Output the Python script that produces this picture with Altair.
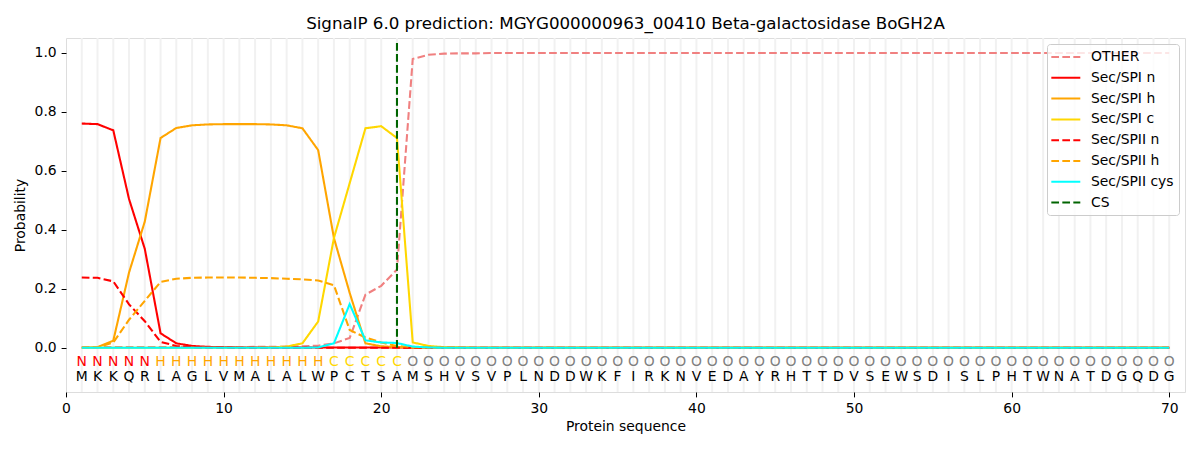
import altair as alt
import pandas as pd

positions = list(range(1, 71))
sequence = list("MKKQRLAGLVMALALWPCTSAMSHVSVPLNDDWKFIRKNVEDAYRHTTDVSEWSDISLPHTWNATDGQDG")
region_labels = list("NNNNN" + "HHHHHHHHHHH" + "CCCCC" + "O" * 49)

other = [0.002, 0.002, 0.002, 0.002, 0.002, 0.002, 0.002, 0.002, 0.002, 0.002,
         0.002, 0.003, 0.003, 0.004, 0.005, 0.007, 0.015, 0.033, 0.180, 0.210,
         0.265, 0.979, 0.993, 0.997, 0.998, 0.998, 0.999, 0.999, 0.999, 0.999,
         0.999, 0.999, 0.999, 0.999, 0.999, 0.999, 0.999, 0.999, 0.999, 0.999,
         0.999, 0.999, 0.999, 0.999, 0.999, 0.999, 0.999, 0.999, 0.999, 0.999,
         0.999, 0.999, 0.999, 0.999, 0.999, 0.999, 0.999, 0.999, 0.999, 0.999,
         0.999, 0.999, 0.999, 0.999, 0.999, 0.999, 0.999, 0.999, 0.999, 0.999]
spi_n = [0.760, 0.758, 0.737, 0.504, 0.335, 0.049, 0.015, 0.006, 0.003, 0.002,
         0.001, 0.001, 0.001, 0.001, 0.001, 0.001, 0.001, 0.001, 0.001, 0.001,
         0.001, 0.0, 0.0, 0.0, 0.0, 0.0, 0.0, 0.0, 0.0, 0.0,
         0.0, 0.0, 0.0, 0.0, 0.0, 0.0, 0.0, 0.0, 0.0, 0.0,
         0.0, 0.0, 0.0, 0.0, 0.0, 0.0, 0.0, 0.0, 0.0, 0.0,
         0.0, 0.0, 0.0, 0.0, 0.0, 0.0, 0.0, 0.0, 0.0, 0.0,
         0.0, 0.0, 0.0, 0.0, 0.0, 0.0, 0.0, 0.0, 0.0, 0.0]
spi_h = [0.0, 0.002, 0.024, 0.255, 0.428, 0.711, 0.745, 0.754, 0.757, 0.758,
         0.758, 0.758, 0.757, 0.754, 0.744, 0.670, 0.372, 0.186, 0.015, 0.005,
         0.002, 0.001, 0.0, 0.0, 0.0, 0.0, 0.0, 0.0, 0.0, 0.0,
         0.0, 0.0, 0.0, 0.0, 0.0, 0.0, 0.0, 0.0, 0.0, 0.0,
         0.0, 0.0, 0.0, 0.0, 0.0, 0.0, 0.0, 0.0, 0.0, 0.0,
         0.0, 0.0, 0.0, 0.0, 0.0, 0.0, 0.0, 0.0, 0.0, 0.0,
         0.0, 0.0, 0.0, 0.0, 0.0, 0.0, 0.0, 0.0, 0.0, 0.0]
spi_c = [0.0, 0.0, 0.0, 0.0, 0.0, 0.0, 0.0, 0.0, 0.0, 0.0,
         0.0, 0.0, 0.001, 0.004, 0.015, 0.089, 0.372, 0.558, 0.744, 0.751,
         0.711, 0.018, 0.006, 0.002, 0.001, 0.0, 0.0, 0.0, 0.0, 0.0,
         0.0, 0.0, 0.0, 0.0, 0.0, 0.0, 0.0, 0.0, 0.0, 0.0,
         0.0, 0.0, 0.0, 0.0, 0.0, 0.0, 0.0, 0.0, 0.0, 0.0,
         0.0, 0.0, 0.0, 0.0, 0.0, 0.0, 0.0, 0.0, 0.0, 0.0,
         0.0, 0.0, 0.0, 0.0, 0.0, 0.0, 0.0, 0.0, 0.0, 0.0]
spii_n = [0.238, 0.237, 0.225, 0.147, 0.090, 0.020, 0.006, 0.002, 0.001, 0.001,
          0.0, 0.0, 0.0, 0.0, 0.0, 0.0, 0.0, 0.0, 0.0, 0.0,
          0.0, 0.0, 0.0, 0.0, 0.0, 0.0, 0.0, 0.0, 0.0, 0.0,
          0.0, 0.0, 0.0, 0.0, 0.0, 0.0, 0.0, 0.0, 0.0, 0.0,
          0.0, 0.0, 0.0, 0.0, 0.0, 0.0, 0.0, 0.0, 0.0, 0.0,
          0.0, 0.0, 0.0, 0.0, 0.0, 0.0, 0.0, 0.0, 0.0, 0.0,
          0.0, 0.0, 0.0, 0.0, 0.0, 0.0, 0.0, 0.0, 0.0, 0.0]
spii_h = [0.0, 0.001, 0.018, 0.095, 0.159, 0.223, 0.234, 0.237, 0.238, 0.238,
          0.238, 0.237, 0.236, 0.234, 0.232, 0.228, 0.212, 0.060, 0.035, 0.018,
          0.006, 0.002, 0.001, 0.0, 0.0, 0.0, 0.0, 0.0, 0.0, 0.0,
          0.0, 0.0, 0.0, 0.0, 0.0, 0.0, 0.0, 0.0, 0.0, 0.0,
          0.0, 0.0, 0.0, 0.0, 0.0, 0.0, 0.0, 0.0, 0.0, 0.0,
          0.0, 0.0, 0.0, 0.0, 0.0, 0.0, 0.0, 0.0, 0.0, 0.0,
          0.0, 0.0, 0.0, 0.0, 0.0, 0.0, 0.0, 0.0, 0.0, 0.0]
spii_cys = [0.0, 0.0, 0.0, 0.0, 0.0, 0.0, 0.0, 0.0, 0.0, 0.0,
            0.0, 0.0, 0.0, 0.0, 0.0, 0.001, 0.015, 0.148, 0.025, 0.018,
            0.016, 0.004, 0.001, 0.0, 0.0, 0.0, 0.0, 0.0, 0.0, 0.0,
            0.0, 0.0, 0.0, 0.0, 0.0, 0.0, 0.0, 0.0, 0.0, 0.0,
            0.0, 0.0, 0.0, 0.0, 0.0, 0.0, 0.0, 0.0, 0.0, 0.0,
            0.0, 0.0, 0.0, 0.0, 0.0, 0.0, 0.0, 0.0, 0.0, 0.0,
            0.0, 0.0, 0.0, 0.0, 0.0, 0.0, 0.0, 0.0, 0.0, 0.0]
cs_position = 21
cs_top = 1.035

series_names = ["OTHER", "Sec/SPI n", "Sec/SPI h", "Sec/SPI c",
                "Sec/SPII n", "Sec/SPII h", "Sec/SPII cys", "CS"]
series_colors = ["#F08080", "#FF0000", "#FFA500", "#FFD700",
                 "#FF0000", "#FFA500", "#00FFFF", "#006400"]
series_dashes = [[7.7, 3.3], [1, 0], [1, 0], [1, 0],
                 [7.7, 3.3], [7.7, 3.3], [1, 0], [7.7, 3.3]]

region_domain = ["N", "H", "C", "O"]
region_colors = ["#FF0000", "#FFA500", "#FFD700", "#808080"]

values = [other, spi_n, spi_h, spi_c, spii_n, spii_h, spii_cys]
rows = []
for name, vals in zip(series_names[:-1], values):
    for p, v in zip(positions, vals):
        rows.append({"pos": p, "prob": v, "series": name})
lines_df = pd.DataFrame(rows)
cs_df = pd.DataFrame({"pos": [cs_position], "y0": [0.0], "y1": [cs_top], "series": ["CS"]})
seq_df = pd.DataFrame({"pos": positions, "aa": sequence, "region": region_labels})

FONT = "DejaVu Sans"
xscale = alt.Scale(domain=[0, 71], nice=False, zero=False)
yscale = alt.Scale(domain=[-0.15, 1.05], nice=False, zero=False)

color_scale = alt.Scale(domain=series_names, range=series_colors)
dash_scale = alt.Scale(domain=series_names, range=series_dashes)

legend = alt.Legend(
    title=None, orient="none", legendX=981, legendY=6,
    symbolType="M-1.24,0H2.9", symbolSize=196, symbolStrokeWidth=2,
    labelFont=FONT, labelFontSize=13.9, labelColor="black", labelOffset=23,
    rowPadding=5.8, padding=5, fillColor="rgba(255,255,255,0.8)",
    strokeColor="#cccccc", cornerRadius=3,
)

x_axis = alt.Axis(values=list(range(0, 71, 10)), title="Protein sequence", grid=False,
                  domain=False, tickSize=4.9, tickColor="black", labelPadding=4.9,
                  labelFont=FONT, labelFontSize=13.9, labelColor="black",
                  titleFont=FONT, titleFontSize=13.9, titleFontWeight="normal",
                  titleColor="black", titlePadding=4, labelFlush=False)
y_axis = alt.Axis(values=[0.0, 0.2, 0.4, 0.6, 0.8, 1.0], format=".1f", title="Probability",
                  grid=False, domain=False, tickSize=4.9, tickColor="black",
                  labelPadding=4.9, labelFont=FONT, labelFontSize=13.9, labelColor="black",
                  titleFont=FONT, titleFontSize=13.9, titleFontWeight="normal",
                  titleColor="black", titlePadding=7, labelFlush=False)

grid = alt.Chart(seq_df).mark_rule(color="#f1f1f1", strokeWidth=2).encode(
    x=alt.X("pos:Q", scale=xscale, axis=x_axis)
)

lines = alt.Chart(lines_df).mark_line(strokeWidth=2.08).encode(
    x=alt.X("pos:Q", scale=xscale, axis=x_axis),
    y=alt.Y("prob:Q", scale=yscale, axis=y_axis),
    color=alt.Color("series:N", scale=color_scale, legend=legend, sort=series_names),
    strokeDash=alt.StrokeDash("series:N", scale=dash_scale, legend=legend, sort=series_names),
)

cs_rule = alt.Chart(cs_df).mark_rule(strokeWidth=2.08).encode(
    x=alt.X("pos:Q", scale=xscale),
    y=alt.Y("y0:Q", scale=yscale),
    y2="y1:Q",
    color=alt.Color("series:N", scale=color_scale, legend=legend, sort=series_names),
    strokeDash=alt.StrokeDash("series:N", scale=dash_scale, legend=legend, sort=series_names),
)

region_text = alt.Chart(seq_df).mark_text(font=FONT, fontSize=13.9, baseline="middle",
                                          align="center").encode(
    x=alt.X("pos:Q", scale=xscale),
    y=alt.datum(-0.048, scale=yscale),
    text="region:N",
    fill=alt.Fill("region:N", scale=alt.Scale(domain=region_domain, range=region_colors),
                  legend=None),
)

seq_text = alt.Chart(seq_df).mark_text(font=FONT, fontSize=13.9, baseline="middle",
                                       align="center", color="black").encode(
    x=alt.X("pos:Q", scale=xscale),
    y=alt.datum(-0.1, scale=yscale),
    text="aa:N",
)

chart = alt.layer(grid, lines, cs_rule, region_text, seq_text).resolve_scale(
    fill="independent"
).properties(
    width=1119, height=354,
    title=alt.Title("SignalP 6.0 prediction: MGYG000000963_00410 Beta-galactosidase BoGH2A",
                    font=FONT, fontSize=16.7, fontWeight="normal", color="black",
                    anchor="middle", baseline="bottom", offset=5.5, dy=18),
    autosize=alt.AutoSizeParams(type="none"),
    padding={"left": 58, "top": 30, "right": 7, "bottom": 50},
).configure_view(stroke="black", strokeWidth=1.1).configure(background="white")

chart.save("out.html", embed_options={"renderer": "svg", "actions": False})
